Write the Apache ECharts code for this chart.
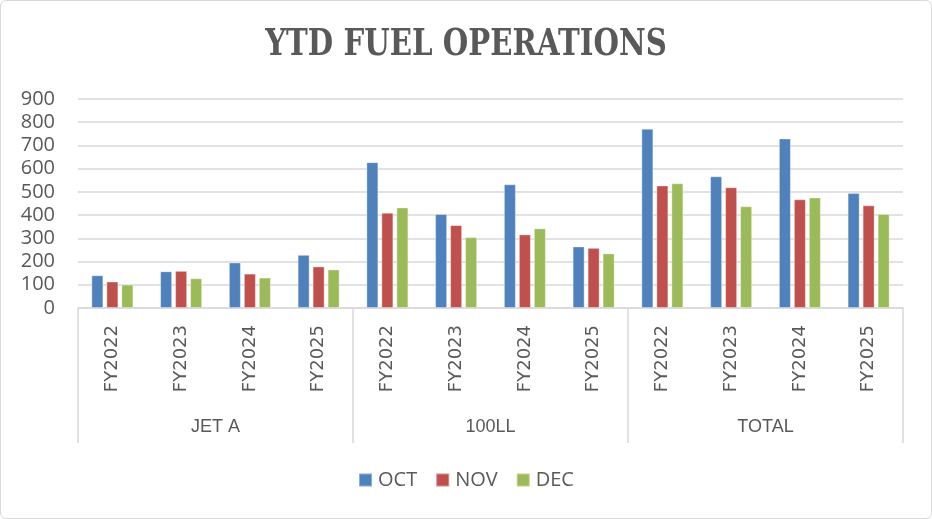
<!DOCTYPE html>
<html>
<head>
<meta charset="utf-8">
<script src="https://cdn.jsdelivr.net/npm/echarts@6/dist/echarts.min.js"></script>
<style>
html,body{margin:0;padding:0;background:#fff;}
#frame{position:absolute;left:0;top:0;width:930px;height:517px;border:1px solid #d9d9d9;border-radius:6px;}
#chart{position:absolute;left:0;top:0;width:932px;height:519px;}
</style>
</head>
<body>
<div id="frame"></div>
<div id="chart"></div>
<script>
const titleText = 'YTD FUEL OPERATIONS';
const groups = ['JET A', '100LL', 'TOTAL'];
const years = ['FY2022', 'FY2023', 'FY2024', 'FY2025'];
const seriesNames = ['OCT', 'NOV', 'DEC'];
const octValues = [141, 158, 196, 229, 628, 405, 533, 265, 772, 567, 730, 495];
const novValues = [114, 160, 148, 179, 410, 357, 317, 259, 528, 520, 468, 442];
const decValues = [101, 128, 131, 166, 433, 305, 343, 235, 537, 438, 476, 405];
const yTicks = [0, 100, 200, 300, 400, 500, 600, 700, 800, 900];
const colors = ['#4F81BD', '#C0504D', '#9BBB59'];

const categories = [];
groups.forEach(() => years.forEach(y => categories.push(y)));
const values = [octValues, novValues, decValues];

const chart = echarts.init(document.getElementById('chart'), null, {renderer: 'canvas'});
chart.setOption({
  animation: false,
  backgroundColor: 'transparent',
  graphic: [{
    type: 'text',
    x: 466,
    y: 45,
    scaleX: 0.77,
    style: {
      text: titleText,
      textAlign: 'center',
      textVerticalAlign: 'middle',
      fontFamily: 'DejaVu Serif',
      fontWeight: 'bold',
      fontSize: 38,
      fill: '#595959'
    }
  }],
  legend: {
    bottom: 24,
    left: 'center',
    itemWidth: 13,
    itemHeight: 13,
    itemGap: 18,
    icon: 'rect',
    textStyle: {fontFamily: 'Open Sans', fontSize: 20, color: '#595959', padding: [0, 0, 0, 1]},
    data: seriesNames
  },
  grid: {left: 78, right: 29, top: 99, bottom: 211, containLabel: false},
  xAxis: [
    {
      type: 'category',
      data: categories,
      position: 'bottom',
      axisLine: {show: true, lineStyle: {color: '#D9D9D9', width: 1.5}},
      axisTick: {show: false},
      axisLabel: {
        rotate: 90,
        margin: 17,
        interval: 0,
        fontFamily: 'DejaVu Sans',
        fontSize: 18,
        color: '#595959'
      }
    },
    {
      type: 'category',
      data: groups,
      position: 'bottom',
      axisLine: {show: false},
      axisTick: {show: true, length: 135, lineStyle: {color: '#D9D9D9', width: 1.5}},
      axisLabel: {
        margin: 110,
        interval: 0,
        fontFamily: 'Liberation Sans',
        fontSize: 18,
        color: '#595959'
      },
      splitLine: {show: false}
    }
  ],
  yAxis: {
    type: 'value',
    min: 0,
    max: 900,
    interval: 100,
    axisLine: {show: false},
    axisTick: {show: false},
    splitLine: {lineStyle: {color: '#D9D9D9', width: 1.5}},
    axisLabel: {
      margin: 23,
      fontFamily: 'Open Sans',
      fontSize: 20,
      color: '#595959',
      customValues: yTicks
    }
  },
  series: seriesNames.map((name, i) => ({
    name: name,
    type: 'bar',
    xAxisIndex: 0,
    data: values[i],
    barWidth: 12,
    barGap: '25%',
    itemStyle: {color: colors[i], borderColor: 'rgba(255,255,255,0.35)', borderWidth: 1}
  }))
});
</script>
</body>
</html>
